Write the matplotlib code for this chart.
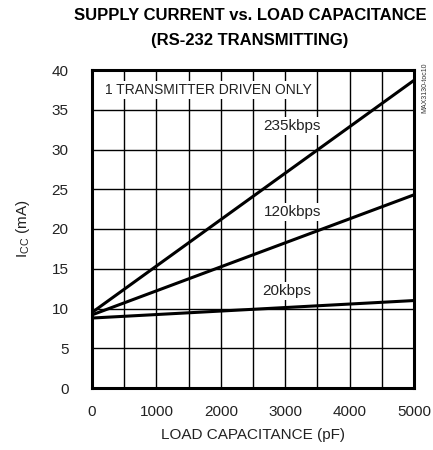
import matplotlib
matplotlib.use("Agg")
import matplotlib.pyplot as plt
import numpy as np

plt.rcParams['font.family'] = ['Liberation Sans Narrow', 'Liberation Sans', 'DejaVu Sans']

# load capacitance (pF) and supply current (mA) at the two ends of each line
cap_pf = [0, 5000]
icc_235k = [9.5, 38.7]
icc_120k = [9.2, 24.3]
icc_20k = [8.8, 11.0]

x_ticks = [0, 1000, 2000, 3000, 4000, 5000]
y_ticks = [0, 5, 10, 15, 20, 25, 30, 35, 40]

fig = plt.figure(figsize=(4.33, 4.50), dpi=100)
ax = fig.add_axes([92 / 433, 62 / 450, 322 / 433, 318 / 450])

for v in np.arange(500, 5000, 500):
    ax.axvline(v, color='black', lw=1.0, zorder=1)
for v in np.arange(5, 40, 5):
    ax.axhline(v, color='black', lw=1.0, zorder=1)

for ys in (icc_235k, icc_120k, icc_20k):
    ax.plot(cap_pf, ys, color='black', lw=2.2, zorder=3, solid_capstyle='butt')

txt = '#222222'
box = dict(facecolor='white', edgecolor='none', pad=1.5)
ax.text(3110, 33.0, '235kbps', fontsize=11, color=txt, ha='center', va='center', bbox=box, zorder=4)
ax.text(3110, 22.1, '120kbps', fontsize=11, color=txt, ha='center', va='center', bbox=box, zorder=4)
ax.text(3030, 12.2, '20kbps', fontsize=11, color=txt, ha='center', va='center', bbox=box, zorder=4)
ax.text(200, 37.5, '1 TRANSMITTER DRIVEN ONLY', fontsize=10, color=txt, ha='left', va='center',
        bbox=box, zorder=4)

ax.set_xlim(0, 5000)
ax.set_ylim(0, 40)
ax.set_xticks(x_ticks)
ax.set_yticks(y_ticks)
ax.tick_params(axis='x', length=0, labelsize=11, pad=12, labelcolor=txt)
ax.tick_params(axis='y', length=0, labelsize=11, pad=17, labelcolor=txt)
for s in ax.spines.values():
    s.set_linewidth(2.2)

ax.set_xlabel('LOAD CAPACITANCE (pF)', fontsize=11, labelpad=7, color=txt)
ax.set_ylabel('I$_{\\mathregular{CC}}$ (mA)', fontsize=11, labelpad=14, color=txt)

fig.text(250 / 433, 1 - 16 / 450, 'SUPPLY CURRENT vs. LOAD CAPACITANCE', fontsize=12,
         fontweight='bold', ha='center', va='center')
fig.text(250 / 433, 1 - 41 / 450, '(RS-232 TRANSMITTING)', fontsize=12,
         fontweight='bold', ha='center', va='center')
fig.text(425 / 433, 1 - 88 / 450, 'MAX3130-toc10', fontsize=5, rotation=90,
         ha='center', va='center', color='#333333')

fig.savefig('out.png', dpi=100)
